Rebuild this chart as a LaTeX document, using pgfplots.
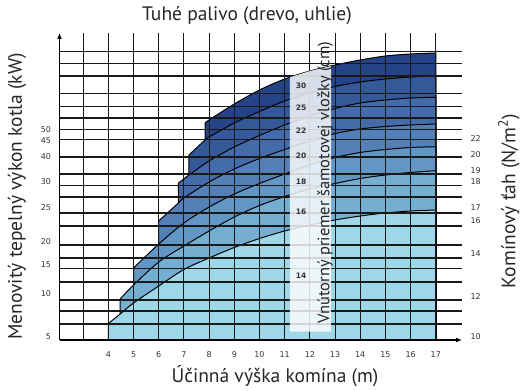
\documentclass[border=0pt]{standalone}
\usepackage{fontspec}
\setmainfont{PT Sans}
\newfontfamily\tickfont{DejaVu Sans}
\usepackage{pgfplots}
\pgfplotsset{compat=1.18}
\usetikzlibrary{arrows.meta}
\definecolor{c14}{RGB}{158,215,232}
\definecolor{c16}{RGB}{116,175,210}
\definecolor{c18}{RGB}{98,150,196}
\definecolor{c20}{RGB}{84,128,184}
\definecolor{c22}{RGB}{68,108,170}
\definecolor{c25}{RGB}{53,88,153}
\definecolor{c30}{RGB}{36,68,135}
\begin{document}
\begin{tikzpicture}
\begin{axis}[
  at={(0pt,0pt)}, anchor=south west,
  scale only axis, width=402.5pt, height=307pt,
  xmin=2.06, xmax=18.04, ymin=0, ymax=307,
  axis lines=left,
  axis line style={line width=1.6pt, -{Latex[length=6pt,width=5pt]}},
  set layers=axis on top,
  xtick={3,4,5,6,7,8,9,10,11,12,13,14,15,16,17},
  xticklabels={,4,5,6,7,8,9,10,11,12,13,14,15,16,17},
  ytick={16,29,40,58,71.5,82,95,114,127,143,154.5,166,183,200.5,210.5,222,233.5,246.5,264,276.5,288.5},
  yticklabels={},
  extra y ticks={3,46,75,98,132,158,183,199,210.5},
  extra y tick labels={5,10,15,20,25,30,40,45,50},
  extra y tick style={grid=none},
  major tick length=0,
  grid=major, grid style={black!90, line width=1.05pt},
  tick label style={font=\tickfont\fontsize{8}{9}\selectfont, text=black!80},
  xticklabel style={yshift=-8pt},
  yticklabel style={xshift=-5pt},
  clip=false,
]
% band 30 (top curve)
\addplot[smooth, draw=black, line width=1pt, fill=c30] coordinates {(7.84,217) (8,220) (9,236) (10,250) (11,261) (12,269) (13,275) (14,280) (15,284) (16,286) (17,287)} \closedcycle;
% band 25
\addplot[smooth, draw=black, line width=1pt, fill=c25] coordinates {(7.2,185) (7.84,200) (8,203) (9,217) (10,228.5) (11,239) (12,247) (13,253.5) (14,258) (15,261) (16,263) (17,264)} \closedcycle;
% band 22
\addplot[smooth, draw=black, line width=1pt, fill=c22] coordinates {(6.78,157) (7,161) (7.2,165) (8,179) (9,193) (10,204.5) (11,215) (12,224) (13,231.5) (14,237) (15,240) (16,242) (17,242.7)} \closedcycle;
% band 20
\addplot[smooth, draw=black, line width=1pt, fill=c20] coordinates {(6,119) (6.78,137) (7,142) (8,158) (9,171) (10,181.5) (11,190.5) (12,199) (13,206.5) (14,211) (15,213.5) (16,215) (17,216)} \closedcycle;
% band 18
\addplot[smooth, draw=black, line width=1pt, fill=c18] coordinates {(5,72) (6,96) (7,117) (8,133) (9,146) (10,156.5) (11,166) (12,175) (13,182.5) (14,187.5) (15,190.5) (16,192.5) (17,193.3)} \closedcycle;
% band 16
\addplot[smooth, draw=black, line width=1pt, fill=c16] coordinates {(4.47,41) (5,55) (6,78) (7,94) (8,109) (9,123) (10,134.5) (11,143.5) (12,151) (13,156.5) (14,161.5) (15,165) (16,167.5) (17,169.3)} \closedcycle;
% band 14
\addplot[smooth, draw=black, line width=1pt, fill=c14] coordinates {(4,16.5) (4.47,26) (5,37) (6,54) (7,70.5) (8,82) (9,92.5) (10,101.5) (11,109) (12,115) (13,120) (14,124) (15,127) (16,129) (17,130)} \closedcycle;
% label strip
\addplot[on layer=axis foreground, draw=none, fill=white, fill opacity=0.82] coordinates {(11.21,8.3) (11.21,262.8) (12,269) (12.84,274) (12.84,8.3)} -- cycle;
\begin{pgfonlayer}{axis foreground}
\node[font=\tickfont\bfseries\fontsize{7.5}{9}\selectfont, text=black!80] at (axis cs:11.65,254) {30};
\node[font=\tickfont\bfseries\fontsize{7.5}{9}\selectfont, text=black!80] at (axis cs:11.65,232.3) {25};
\node[font=\tickfont\bfseries\fontsize{7.5}{9}\selectfont, text=black!80] at (axis cs:11.65,209) {22};
\node[font=\tickfont\bfseries\fontsize{7.5}{9}\selectfont, text=black!80] at (axis cs:11.65,184.3) {20};
\node[font=\tickfont\bfseries\fontsize{7.5}{9}\selectfont, text=black!80] at (axis cs:11.65,158.3) {18};
\node[font=\tickfont\bfseries\fontsize{7.5}{9}\selectfont, text=black!80] at (axis cs:11.65,128.3) {16};
\node[font=\tickfont\bfseries\fontsize{7.5}{9}\selectfont, text=black!80] at (axis cs:11.65,64) {14};
\node[rotate=90, font=\fontsize{16.5}{18}\selectfont, text=black!85] at (axis cs:12.61,157.5) {Vnútorný priemer šamotovej vložky (cm)};
\end{pgfonlayer}
\end{axis}
\begin{axis}[
  at={(0pt,0pt)}, anchor=south west,
  scale only axis, width=402.5pt, height=307pt,
  xmin=2.06, xmax=18.04, ymin=0, ymax=307,
  hide x axis, axis y line*=right, y axis line style={draw=none},
  ytick={3.3,43.3,86.7,119,132.7,158.3,169.3,185.7,201.7},
  yticklabels={10,12,14,16,17,18,19,20,22},
  major tick length=0,
  tick label style={font=\tickfont\fontsize{8}{9}\selectfont, text=black!80},
  yticklabel style={xshift=5pt},
]
\addplot[draw=none] coordinates {(3,0)};
\end{axis}
\node[font=\fontsize{19.5}{22}\selectfont, text=black!85] at (187.5pt,324.5pt) {Tuhé palivo (drevo, uhlie)};
\node[font=\fontsize{19.5}{22}\selectfont, text=black!85] at (215.5pt,-36pt) {Účinná výška komína (m)};
\node[rotate=90, font=\fontsize{19.5}{22}\selectfont, text=black!85] at (-42.5pt,143.5pt) {Menovitý tepelný výkon kotla (kW)};
\node[rotate=90, font=\fontsize{19.5}{22}\selectfont, text=black!85] at (449.5pt,139pt) {Komínový ťah (N/m\textsuperscript{2})};
\path (-59.5pt,-50pt) rectangle (466.5pt,340pt);
\end{tikzpicture}
\end{document}
